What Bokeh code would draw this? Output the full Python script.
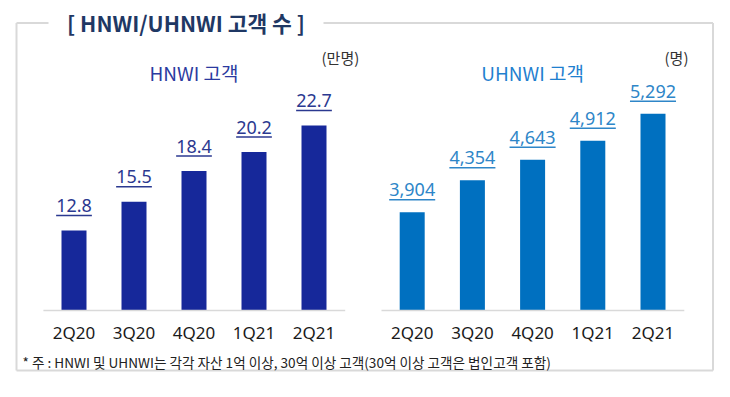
from bokeh.plotting import figure
from bokeh.models import Range1d, ColumnDataSource
from bokeh.core.properties import value
from bokeh.embed import file_html
from bokeh.resources import INLINE

# ---------------- data ----------------
quarters = ["2Q20", "3Q20", "4Q20", "1Q21", "2Q21"]
hnwi = [12.8, 15.5, 18.4, 20.2, 22.7]
uhnwi = [3904, 4354, 4643, 4912, 5292]
hnwi_labels = ["12.8", "15.5", "18.4", "20.2", "22.7"]
uhnwi_labels = ["3,904", "4,354", "4,643", "4,912", "5,292"]
title_text = "[ HNWI/UHNWI 고객 수 ]"
hnwi_title = "HNWI 고객"
uhnwi_title = "UHNWI 고객"
hnwi_unit = "(만명)"
uhnwi_unit = "(명)"
footnote = "* 주 : HNWI 및 UHNWI는 각각 자산 1억 이상, 30억 이상 고객(30억 이상 고객은 법인고객 포함)"

# ---------------- layout ----------------
W, H = 714, 381
OX, OY = 0, 0          # figure sits at the page's top-left corner
BASE_Y = 310           # baseline of both bar charts (page px)

KR = value("Noto Sans CJK KR")
LAT = value("Noto Sans")

p = figure(width=W, height=H, x_range=Range1d(OX, OX + W), y_range=Range1d(OY + H, OY),
           output_backend="svg", toolbar_location=None, min_border=0,
           x_axis_location=None, y_axis_location=None)
p.grid.visible = False
p.outline_line_color = None
p.background_fill_color = "white"
p.border_fill_color = "white"


def chart_ranges(first_center, step, ppu, vmin):
    xr = Range1d((OX - first_center) / step, (OX + W - first_center) / step)
    yr = Range1d(vmin - (OY + H - BASE_Y) / ppu, vmin + (BASE_Y - OY) / ppu)
    return xr, yr


# chart geometry: first bar centre (px), step between bars (px), px per unit, axis minimum
left_geo = dict(first_center=73.5, step=60.0, ppu=10.6, vmin=5.25)
right_geo = dict(first_center=411.7, step=60.2, ppu=0.07089, vmin=2517.0)

hx, hy = chart_ranges(**left_geo)
ux, uy = chart_ranges(**right_geo)
p.extra_x_ranges = {"hx": hx, "ux": ux}
p.extra_y_ranges = {"hy": hy, "uy": uy}

# ---------------- frame ----------------
frame_col = "#d9d9d9"
p.segment(x0=[16, 323, 16, 16, 712.5], y0=[22.5, 22.5, 22.5, 370, 22.5],
          x1=[48, 712.5, 16, 712.5, 712.5], y1=[22.5, 22.5, 370, 370, 370],
          line_color=frame_col, line_width=2)

p.text(x=[185.5], y=[22], text=[title_text], text_font=KR, text_font_size="21.5px",
       text_font_style="bold", text_color="#1F3864", text_align="center", text_baseline="middle")

p.text(x=[22], y=[361], text=[footnote], text_font=KR, text_font_size="13.6px",
       text_color="#222222", text_align="left", text_baseline="middle")


def text_width(s, fs):
    return sum(0.572 if ch.isdigit() else 0.27 for ch in s) * fs


def draw_chart(xn, yn, geo, values, labels, bar_color, label_color, title, title_color,
               unit, unit_x, gap, fs):
    n = len(values)
    idx = list(range(n))
    step, ppu, vmin = geo["step"], geo["ppu"], geo["vmin"]
    src = ColumnDataSource(dict(x=idx, top=values, cat=quarters, lab=labels))
    p.vbar(x="x", top="top", bottom=vmin, width=25 / step, source=src,
           fill_color=bar_color, line_color=None, x_range_name=xn, y_range_name=yn)
    # baseline
    p.segment(x0=[-0.51], y0=[vmin], x1=[n - 0.48], y1=[vmin], line_color="#d9d9d9",
              line_width=1.5, x_range_name=xn, y_range_name=yn)
    # category labels
    p.text(x="x", y=vmin, text="cat", source=src, text_font=LAT, text_font_size="17px",
           text_color="#1a1a1a", text_align="center", text_baseline="middle",
           y_offset=22, x_range_name=xn, y_range_name=yn)
    # value labels (underlined)
    uy_vals = [v + gap / ppu for v in values]
    half = [text_width(s, fs) / 2 / step for s in labels]
    p.text(x=idx, y=uy_vals, text=labels, text_font=LAT, text_font_size=f"{fs}px",
           text_color=label_color, text_align="center", text_baseline="middle",
           y_offset=-10, x_range_name=xn, y_range_name=yn)
    p.segment(x0=[i - h for i, h in zip(idx, half)], y0=uy_vals,
              x1=[i + h for i, h in zip(idx, half)], y1=uy_vals,
              line_color=label_color, line_width=1.5, x_range_name=xn, y_range_name=yn)
    # subtitle and unit
    mid = (n - 1) / 2
    top_val = vmin + (BASE_Y - 71.5) / ppu
    unit_val = vmin + (BASE_Y - 56.5) / ppu
    p.text(x=[mid], y=[top_val], text=[title], text_font=KR, text_font_size="19px",
           text_color=title_color, text_align="center", text_baseline="middle",
           x_range_name=xn, y_range_name=yn)
    p.text(x=[unit_x], y=[unit_val], text=[unit], text_font=KR, text_font_size="15px",
           text_color="#333333", text_align="center", text_baseline="middle",
           x_range_name=xn, y_range_name=yn)


draw_chart("hx", "hy", left_geo, hnwi, hnwi_labels, "#16289A", "#2B3990",
           hnwi_title, "#2B3AA0", hnwi_unit, 4.44, 15, 18)
draw_chart("ux", "uy", right_geo, uhnwi, uhnwi_labels, "#0070C0", "#2E86C8",
           uhnwi_title, "#1F80CF", uhnwi_unit, 4.39, 12.5, 18)

open("out.html", "w").write(file_html(p, INLINE))
